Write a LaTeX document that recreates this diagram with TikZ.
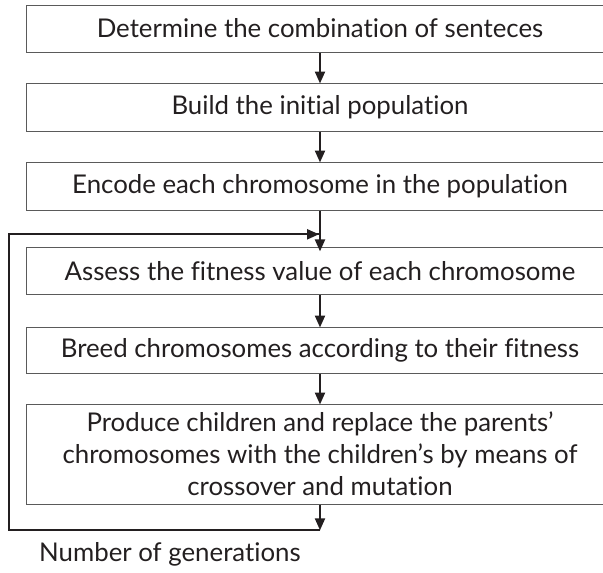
\documentclass[tikz,border=0pt]{standalone}
\usepackage{fontspec}
\setmainfont{Lato}[RawFeature={-liga;-dlig}]
\usetikzlibrary{arrows.meta}
\definecolor{ink}{HTML}{231F20}
\definecolor{frame}{HTML}{5A5A5A}
\tikzset{
  stepbox/.style={draw=frame, line width=1pt, minimum width=588pt, inner sep=0pt,
    text=ink, align=center, font=\fontsize{25.8}{32}\selectfont},
  flow/.style={draw=ink, line width=2.2pt,
    -{Triangle[length=12pt,width=10pt]}},
  loopline/.style={draw=ink, line width=2.2pt}
}
\begin{document}
\begin{tikzpicture}[x=1pt, y=-1pt]
  \useasboundingbox (0,0) rectangle (603,573);
  \node[stepbox, minimum height=47pt] (b1) at (320,28.5) {Determine the combination of senteces};
  \node[stepbox, minimum height=48pt] (b2) at (320,107) {Build the initial population};
  \node[stepbox, minimum height=48pt] (b3) at (320,186) {Encode each chromosome in the population};
  \node[stepbox, minimum height=47pt] (b4) at (320,271.4) {Assess the fitness value of each chromosome};
  \node[stepbox, minimum height=46pt] (b5) at (320,350) {Breed chromosomes according to their fitness};
  \node[stepbox, minimum height=100pt] (b6) at (320,454) {Produce children and replace the parents’\\chromosomes with the children’s by means of\\crossover and mutation};
  \node[anchor=west, text=ink, inner sep=0pt, font=\fontsize{25.8}{30}\selectfont] (gen) at (39,554) {Number of generations};

  \coordinate (lb) at (320,530.3);
  \coordinate (ll) at (9.3,530.3);
  \coordinate (lt) at (9.3,234.3);
  \coordinate (la) at (319,234.3);

  \draw[flow] (b1.south) -- ([yshift=-1pt]b2.north);
  \draw[flow] (b2.south) -- ([yshift=-1pt]b3.north);
  \draw[flow] (b3.south) -- ([yshift=-4pt]b4.north);
  \draw[flow] (b4.south) -- ([yshift=-1pt]b5.north);
  \draw[flow] (b5.south) -- ([yshift=-1pt]b6.north);
  \draw[flow] (b6.south) -- (lb);
  \draw[loopline, line join=miter] (lb) -- (ll) -- (lt) -- (la);
  \draw[flow] (lt) -- (la);
\end{tikzpicture}
\end{document}
